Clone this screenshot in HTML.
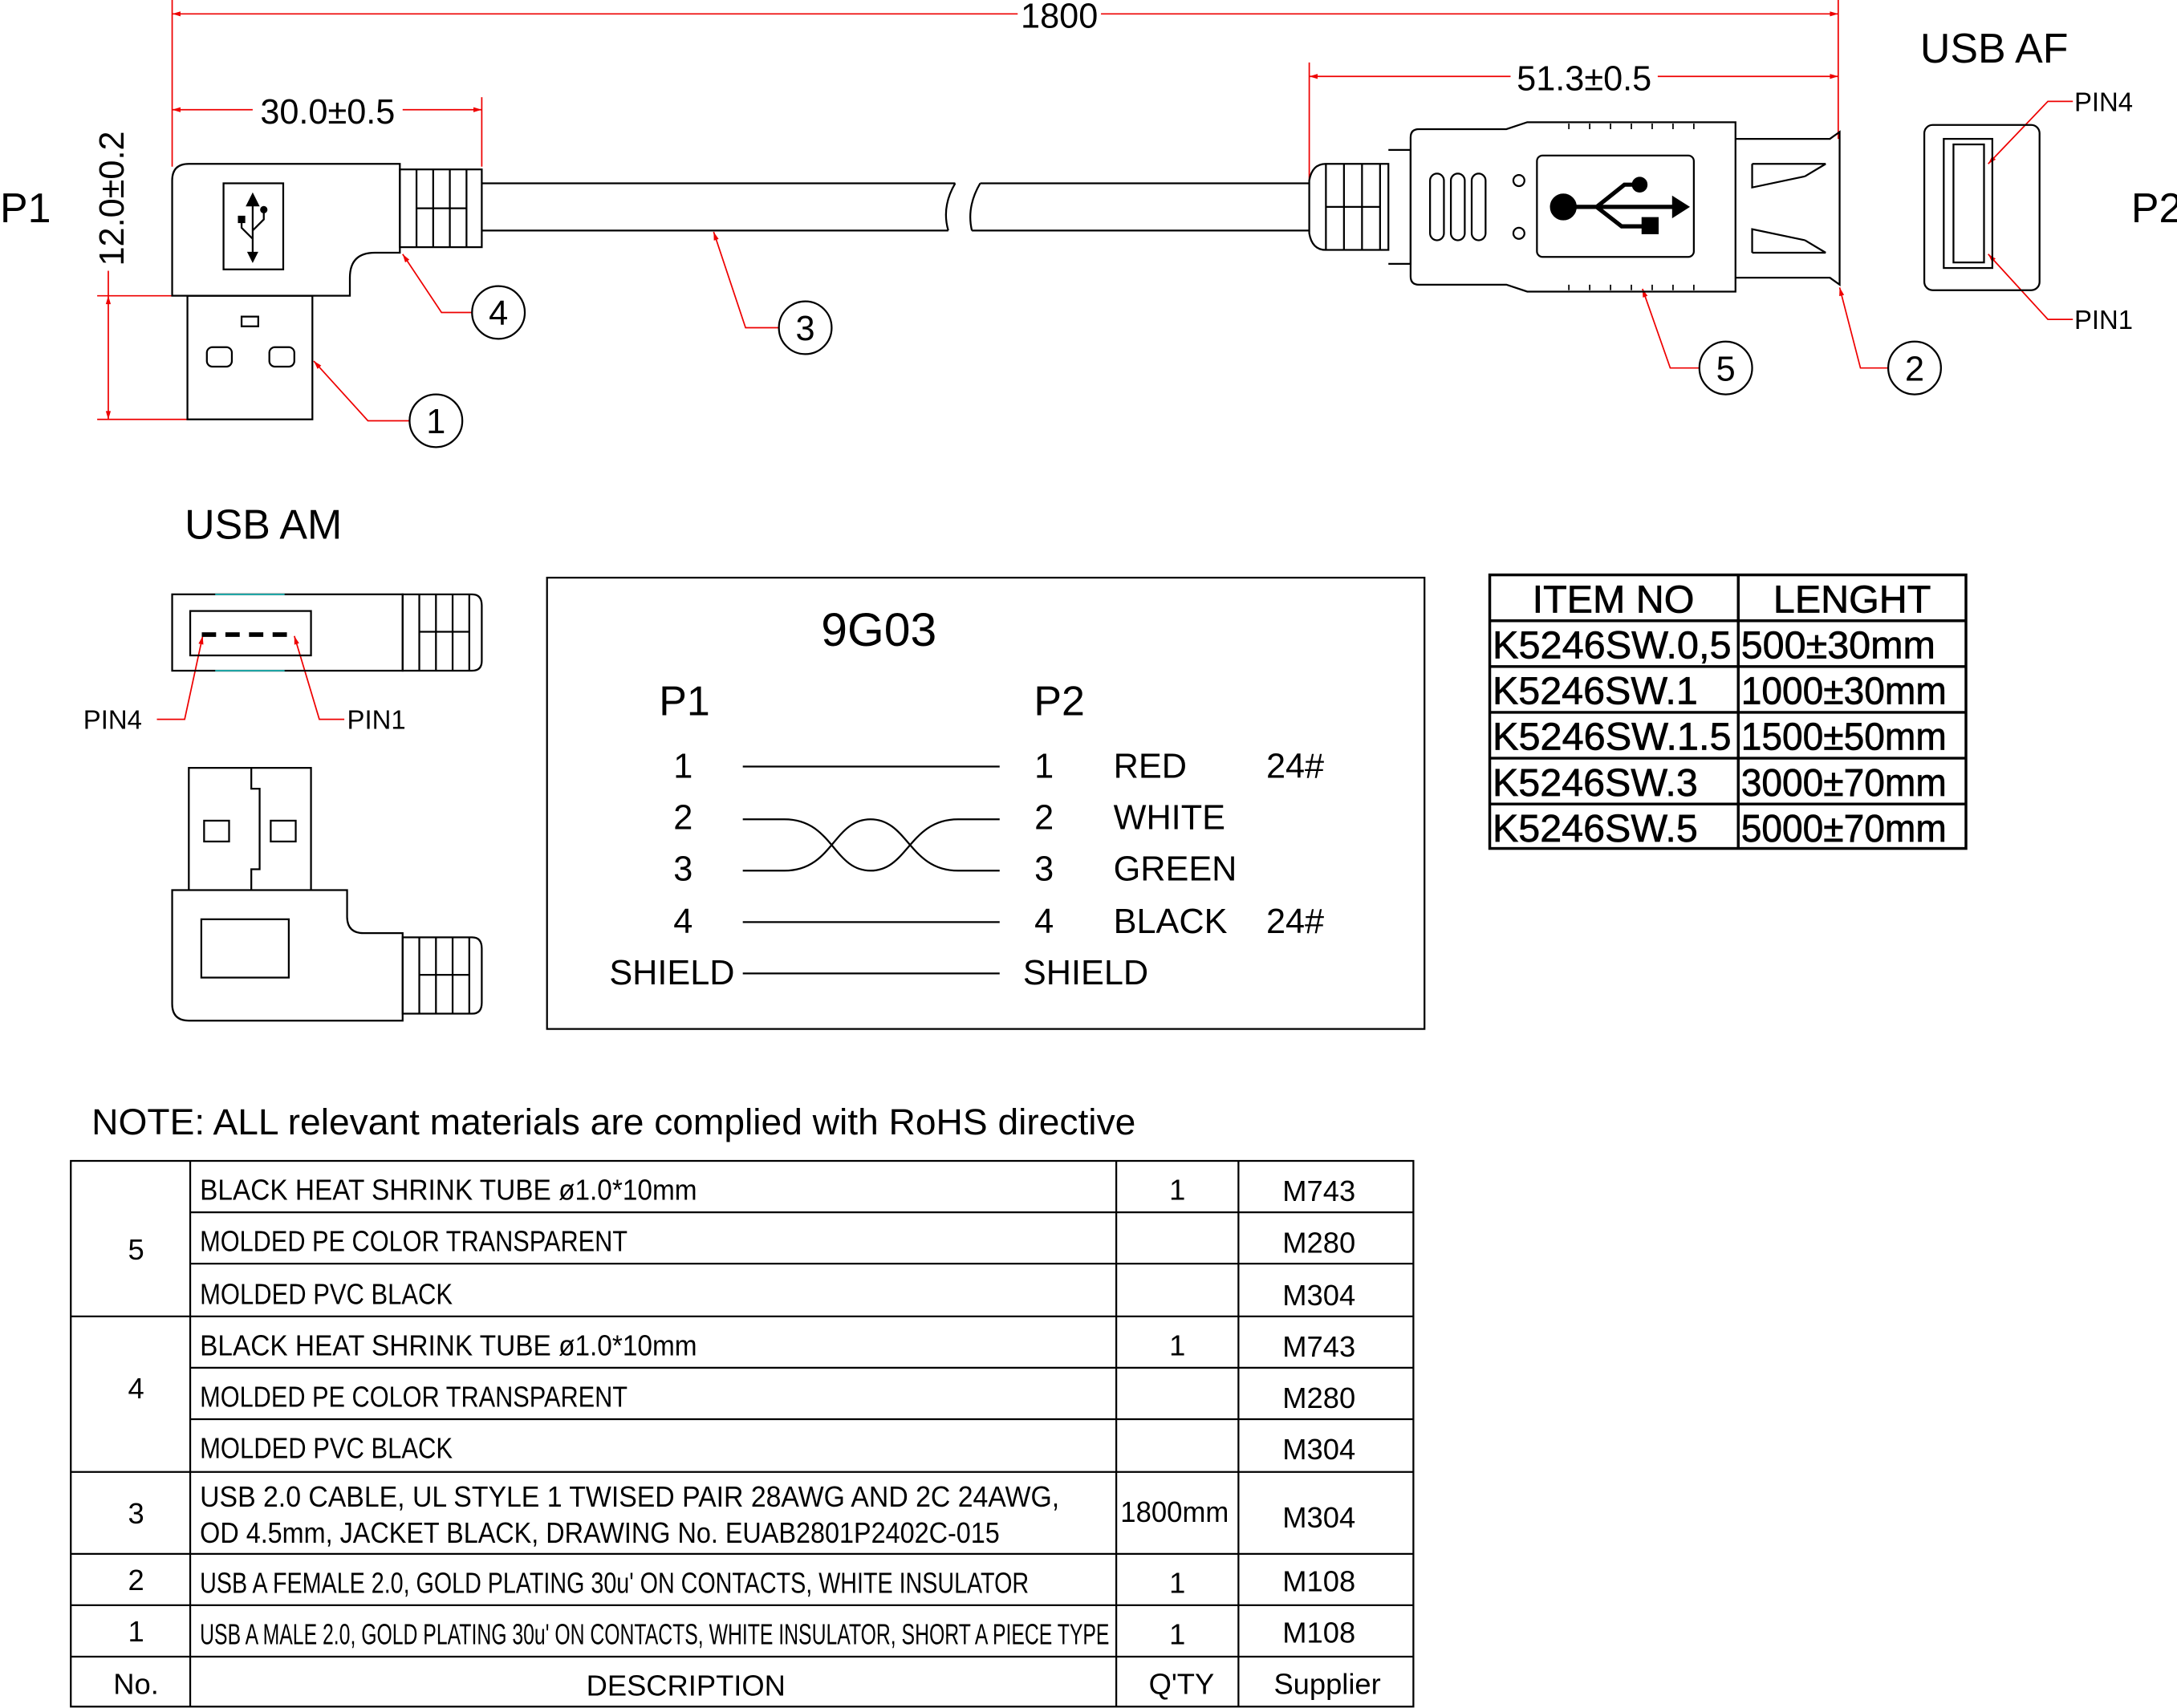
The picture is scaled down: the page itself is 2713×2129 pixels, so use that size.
<!DOCTYPE html>
<html><head><meta charset="utf-8"><style>
html,body{margin:0;padding:0;background:#fff}
svg{display:block}
text{font-family:"Liberation Sans",sans-serif;fill:#000}
.t{font-weight:300}
</style></head><body>
<svg width="2713" height="2129" viewBox="0 0 1568 1230" preserveAspectRatio="none" xmlns="http://www.w3.org/2000/svg">
<defs>
<marker id="a" viewBox="0 0 10 10" refX="10" refY="5" markerWidth="10" markerHeight="6" orient="auto-start-reverse"><path d="M0,2 L10,5 L0,8z" fill="#e00"/></marker>
</defs>
<g stroke="#e00" stroke-width="1" fill="none">
<line x1="124" y1="0" x2="124" y2="120"/><line x1="1324" y1="0" x2="1324" y2="100"/>
<line x1="124" y1="10" x2="733" y2="10" marker-start="url(#a)"/><line x1="793" y1="10" x2="1324" y2="10" marker-end="url(#a)"/>
<line x1="124" y1="79" x2="182" y2="79" marker-start="url(#a)"/><line x1="290" y1="79" x2="347" y2="79" marker-end="url(#a)"/>
<line x1="347" y1="70" x2="347" y2="120"/>
<line x1="943" y1="45" x2="943" y2="130"/>
<line x1="943" y1="55" x2="1088" y2="55" marker-start="url(#a)"/><line x1="1194" y1="55" x2="1324" y2="55" marker-end="url(#a)"/>
<line x1="70" y1="213" x2="124" y2="213"/><line x1="70" y1="302" x2="135" y2="302"/>
<line x1="78" y1="213" x2="78" y2="302" marker-start="url(#a)" marker-end="url(#a)"/>
<line x1="78" y1="195" x2="78" y2="213"/>
<polyline points="290,183 318,225 340,225" marker-start="url(#a)"/>
<polyline points="226,260 265,303 295,303" marker-start="url(#a)"/>
<polyline points="514,167 537,236 561,236" marker-start="url(#a)"/>
<polyline points="1183,208 1203,265 1224,265" marker-start="url(#a)"/>
<polyline points="1325,207 1340,265 1360,265" marker-start="url(#a)"/>
<polyline points="1432,118 1475,73 1493,73" marker-start="url(#a)"/>
<polyline points="1432,183 1475,230 1493,230" marker-start="url(#a)"/>
<polyline points="146,458 133,518 113,518" marker-start="url(#a)"/>
<polyline points="212,458 230,518 248,518" marker-start="url(#a)"/>
</g>
<g class="t">
<text x="763" y="20" font-size="25" text-anchor="middle">1800</text>
<text x="236" y="89" font-size="25" text-anchor="middle">30.0±0.5</text>
<text x="1141" y="65" font-size="25" text-anchor="middle">51.3±0.5</text>
<text transform="translate(89,143) rotate(-90)" font-size="25" text-anchor="middle">12.0±0.2</text>
<text x="0" y="160" font-size="30">P1</text>
<text x="1535" y="160" font-size="30">P2</text>
<text x="1383" y="45" font-size="30">USB AF</text>
<text x="133" y="388" font-size="30">USB AM</text>
<text x="1494" y="80" font-size="19">PIN4</text>
<text x="1494" y="237" font-size="19">PIN1</text>
<text x="60" y="525" font-size="19">PIN4</text>
<text x="250" y="525" font-size="19">PIN1</text>
</g>
<g stroke="#000" stroke-width="1.3" fill="none">
<circle cx="359" cy="225" r="19"/><circle cx="314" cy="303" r="19"/><circle cx="580" cy="236" r="19"/><circle cx="1243" cy="265" r="19"/><circle cx="1379" cy="265" r="19"/>
<path d="M136,118 H288 V182 H270 Q252,182 252,200 V213 H124 V130 Q124,118 136,118Z"/>
<rect x="161" y="132" width="43" height="62"/>
<rect x="135" y="213" width="90" height="89"/>
<rect x="174" y="228" width="12" height="7"/>
<rect x="149" y="250" width="18" height="14" rx="4"/><rect x="194" y="250" width="18" height="14" rx="4"/>
<rect x="288" y="122" width="59" height="56"/>
<line x1="300" y1="122" x2="300" y2="178"/><line x1="312" y1="122" x2="312" y2="178"/><line x1="324" y1="122" x2="324" y2="178"/><line x1="336" y1="122" x2="336" y2="178"/>
<line x1="300" y1="150" x2="336" y2="150"/>
<line x1="347" y1="132" x2="688" y2="132"/><line x1="347" y1="166" x2="683" y2="166"/>
<line x1="706" y1="132" x2="943" y2="132"/><line x1="700" y1="166" x2="943" y2="166"/>
<path d="M688,132 Q678,149 683,166 M706,132 Q696,149 700,166"/>
<path d="M943,130 Q945,118 955,118 H1000 V180 H955 Q945,180 943,168Z"/>
<line x1="955" y1="118" x2="955" y2="180"/><line x1="968" y1="118" x2="968" y2="180"/><line x1="981" y1="118" x2="981" y2="180"/><line x1="994" y1="118" x2="994" y2="180"/>
<line x1="955" y1="149" x2="994" y2="149"/>
<path d="M1000,108 H1016 V190 H1000"/>
<path d="M1022,93 H1085 L1100,88 H1250 V210 H1100 L1085,205 H1022 Q1016,205 1016,199 V99 Q1016,93 1022,93Z"/>
<rect x="1030" y="125" width="10" height="48" rx="5"/><rect x="1045" y="125" width="10" height="48" rx="5"/><rect x="1060" y="125" width="10" height="48" rx="5"/>
<circle cx="1094" cy="130" r="4"/><circle cx="1094" cy="168" r="4"/>
<rect x="1107" y="112" width="113" height="73" rx="4"/>
<path d="M1250,100 H1318 L1325,95 V205 L1318,200 H1250"/>
<path d="M1262,118 H1315 M1262,182 H1315 M1262,118 V135 L1300,127 M1262,182 V165 L1300,173 M1300,127 L1315,118 M1300,173 L1315,182"/>
<rect x="1386" y="90" width="83" height="119" rx="6"/>
<rect x="1400" y="100" width="35" height="93"/>
<rect x="1407" y="104" width="22" height="85"/>
<rect x="124" y="428" width="166" height="55"/>
<rect x="137" y="440" width="87" height="32"/>
<path d="M290,428 H340 Q347,428 347,436 V476 Q347,483 340,483 H290Z"/>
<line x1="302" y1="428" x2="302" y2="483"/><line x1="314" y1="428" x2="314" y2="483"/><line x1="326" y1="428" x2="326" y2="483"/><line x1="338" y1="428" x2="338" y2="483"/>
<line x1="302" y1="455" x2="338" y2="455"/>
<path d="M136,641 V553 H224 V641 M181,553 V568 H187 V626 H181 V641"/>
<rect x="147" y="591" width="18" height="15"/><rect x="195" y="591" width="18" height="15"/>
<path d="M124,641 H250 V660 Q250,672 262,672 H290 V735 H136 Q124,735 124,723Z"/>
<rect x="145" y="662" width="63" height="42"/>
<path d="M290,675 H340 Q347,675 347,683 V722 Q347,730 340,730 H290Z"/>
<line x1="302" y1="675" x2="302" y2="730"/><line x1="314" y1="675" x2="314" y2="730"/><line x1="326" y1="675" x2="326" y2="730"/><line x1="338" y1="675" x2="338" y2="730"/>
<line x1="302" y1="702" x2="338" y2="702"/>
<rect x="394" y="416" width="632" height="325"/>
<line x1="535" y1="552" x2="720" y2="552"/>
<line x1="535" y1="664" x2="720" y2="664"/>
<line x1="535" y1="701" x2="720" y2="701"/>
<path d="M535,590 H565 C600,590 600,627 627,627 S655,590 690,590 H720"/>
<path d="M535,627 H565 C600,627 600,590 627,590 S655,627 690,627 H720"/>
</g>
<g stroke="#000" stroke-width="1.3" fill="#000">
<path d="M182,140 L178,148 H186Z"/>
<path d="M182,148 V184 M182,172 L174,164 V158 M182,166 L190,158 V152" fill="none"/>
<rect x="172" y="156" width="4" height="4"/><circle cx="190" cy="151" r="2"/>
<path d="M179,182 L182,188 L185,182Z"/>
<rect x="146" y="456" width="9" height="2"/><rect x="163" y="456" width="9" height="2"/><rect x="180" y="456" width="9" height="2"/><rect x="197" y="456" width="9" height="2"/>
<circle cx="1126" cy="149" r="9"/>
<path d="M1126,149 H1210 M1150,149 L1170,133 H1180 M1150,149 L1168,163 H1185" fill="none" stroke-width="3"/>
<circle cx="1181" cy="133" r="5"/><rect x="1183" y="157" width="11" height="11"/>
<path d="M1205,142 L1216,149 L1205,156Z"/>
</g>
<g stroke="#000" stroke-width="1" fill="none">
<path d="M1130,93 v-4 M1145,93 v-4 M1160,93 v-4 M1175,93 v-4 M1190,93 v-4 M1205,93 v-4 M1220,93 v-4 M1130,205 v4 M1145,205 v4 M1160,205 v4 M1175,205 v4 M1190,205 v4 M1205,205 v4 M1220,205 v4"/>
</g>
<g stroke="#2bb" stroke-width="1"><line x1="155" y1="428" x2="205" y2="428"/><line x1="155" y1="483" x2="205" y2="483"/></g>
<g class="t" font-size="25">
<text x="633" y="465" font-size="34" text-anchor="middle">9G03</text>
<text x="493" y="515" font-size="30" text-anchor="middle">P1</text>
<text x="763" y="515" font-size="30" text-anchor="middle">P2</text>
<text x="492" y="560" text-anchor="middle">1</text><text x="492" y="597" text-anchor="middle">2</text><text x="492" y="634" text-anchor="middle">3</text><text x="492" y="672" text-anchor="middle">4</text>
<text x="484" y="709" text-anchor="middle">SHIELD</text>
<text x="752" y="560" text-anchor="middle">1</text><text x="752" y="597" text-anchor="middle">2</text><text x="752" y="634" text-anchor="middle">3</text><text x="752" y="672" text-anchor="middle">4</text>
<text x="782" y="709" text-anchor="middle">SHIELD</text>
<text x="802" y="560">RED</text><text x="802" y="597">WHITE</text><text x="802" y="634">GREEN</text><text x="802" y="672">BLACK</text>
<text x="912" y="560">24#</text><text x="912" y="672">24#</text>
<text x="359" y="234" text-anchor="middle">4</text><text x="314" y="312" text-anchor="middle">1</text><text x="580" y="245" text-anchor="middle">3</text><text x="1243" y="274" text-anchor="middle">5</text><text x="1379" y="274" text-anchor="middle">2</text>
<text x="66" y="817" font-size="26" textLength="752" lengthAdjust="spacingAndGlyphs">NOTE:  ALL  relevant  materials  are  complied  with  RoHS  directive</text>
</g>
<g stroke="#000" stroke-width="2" fill="none">
<rect x="1073" y="414" width="343" height="197"/>
<line x1="1252" y1="414" x2="1252" y2="611"/>
<line x1="1073" y1="447" x2="1416" y2="447"/><line x1="1073" y1="480" x2="1416" y2="480"/><line x1="1073" y1="513" x2="1416" y2="513"/><line x1="1073" y1="546" x2="1416" y2="546"/><line x1="1073" y1="579" x2="1416" y2="579"/>
</g>
<g font-size="28" stroke="#000" stroke-width="0.4">
<text x="1162" y="441" text-anchor="middle">ITEM NO</text><text x="1334" y="441" text-anchor="middle">LENGHT</text>
<text x="1075" y="474" textLength="172" lengthAdjust="spacingAndGlyphs">K5246SW.0,5</text><text x="1254" y="474" textLength="140" lengthAdjust="spacingAndGlyphs">500±30mm</text>
<text x="1075" y="507">K5246SW.1</text><text x="1254" y="507" textLength="148" lengthAdjust="spacingAndGlyphs">1000±30mm</text>
<text x="1075" y="540" textLength="172" lengthAdjust="spacingAndGlyphs">K5246SW.1.5</text><text x="1254" y="540" textLength="148" lengthAdjust="spacingAndGlyphs">1500±50mm</text>
<text x="1075" y="573">K5246SW.3</text><text x="1254" y="573" textLength="148" lengthAdjust="spacingAndGlyphs">3000±70mm</text>
<text x="1075" y="606">K5246SW.5</text><text x="1254" y="606" textLength="148" lengthAdjust="spacingAndGlyphs">5000±70mm</text>
</g>
<g stroke="#000" stroke-width="1.3" fill="none">
<rect x="51" y="836" width="967" height="393"/>
<line x1="137" y1="836" x2="137" y2="1229"/><line x1="804" y1="836" x2="804" y2="1229"/><line x1="892" y1="836" x2="892" y2="1229"/>
<line x1="137" y1="873" x2="1018" y2="873"/><line x1="137" y1="910" x2="1018" y2="910"/>
<line x1="51" y1="948" x2="1018" y2="948"/>
<line x1="137" y1="985" x2="1018" y2="985"/><line x1="137" y1="1022" x2="1018" y2="1022"/>
<line x1="51" y1="1060" x2="1018" y2="1060"/><line x1="51" y1="1119" x2="1018" y2="1119"/><line x1="51" y1="1156" x2="1018" y2="1156"/><line x1="51" y1="1193" x2="1018" y2="1193"/>
</g>
<g class="t" font-size="21">
<text x="98" y="907" text-anchor="middle">5</text><text x="98" y="1007" text-anchor="middle">4</text><text x="98" y="1097" text-anchor="middle">3</text><text x="98" y="1145" text-anchor="middle">2</text><text x="98" y="1182" text-anchor="middle">1</text><text x="98" y="1220" text-anchor="middle">No.</text>
<text x="144" y="864" textLength="358" lengthAdjust="spacingAndGlyphs">BLACK  HEAT  SHRINK  TUBE  ø1.0*10mm</text>
<text x="144" y="901" textLength="308" lengthAdjust="spacingAndGlyphs">MOLDED  PE  COLOR  TRANSPARENT</text>
<text x="144" y="939" textLength="182" lengthAdjust="spacingAndGlyphs">MOLDED  PVC  BLACK</text>
<text x="144" y="976" textLength="358" lengthAdjust="spacingAndGlyphs">BLACK  HEAT  SHRINK  TUBE  ø1.0*10mm</text>
<text x="144" y="1013" textLength="308" lengthAdjust="spacingAndGlyphs">MOLDED  PE  COLOR  TRANSPARENT</text>
<text x="144" y="1050" textLength="182" lengthAdjust="spacingAndGlyphs">MOLDED  PVC  BLACK</text>
<text x="144" y="1085" textLength="619" lengthAdjust="spacingAndGlyphs">USB  2.0  CABLE,  UL  STYLE  1  TWISED  PAIR  28AWG  AND  2C  24AWG,</text>
<text x="144" y="1111" textLength="576" lengthAdjust="spacingAndGlyphs">OD  4.5mm,  JACKET  BLACK,  DRAWING  No.   EUAB2801P2402C-015</text>
<text x="144" y="1147" textLength="597" lengthAdjust="spacingAndGlyphs">USB  A  FEMALE  2.0,  GOLD  PLATING  30u'  ON  CONTACTS,  WHITE  INSULATOR</text>
<text x="144" y="1184" textLength="655" lengthAdjust="spacingAndGlyphs">USB  A  MALE  2.0,  GOLD  PLATING  30u'  ON  CONTACTS,  WHITE  INSULATOR,  SHORT  A  PIECE  TYPE</text>
<text x="494" y="1221" text-anchor="middle">DESCRIPTION</text>
<text x="848" y="864" text-anchor="middle">1</text><text x="848" y="976" text-anchor="middle">1</text><text x="846" y="1096" text-anchor="middle" textLength="78" lengthAdjust="spacingAndGlyphs">1800mm</text><text x="848" y="1147" text-anchor="middle">1</text><text x="848" y="1184" text-anchor="middle">1</text><text x="851" y="1220" text-anchor="middle">Q'TY</text>
<text x="950" y="865" text-anchor="middle">M743</text><text x="950" y="902" text-anchor="middle">M280</text><text x="950" y="940" text-anchor="middle">M304</text>
<text x="950" y="977" text-anchor="middle">M743</text><text x="950" y="1014" text-anchor="middle">M280</text><text x="950" y="1051" text-anchor="middle">M304</text>
<text x="950" y="1100" text-anchor="middle">M304</text><text x="950" y="1146" text-anchor="middle">M108</text><text x="950" y="1183" text-anchor="middle">M108</text>
<text x="956" y="1220" text-anchor="middle">Supplier</text>
</g>
</svg>
</body></html>
